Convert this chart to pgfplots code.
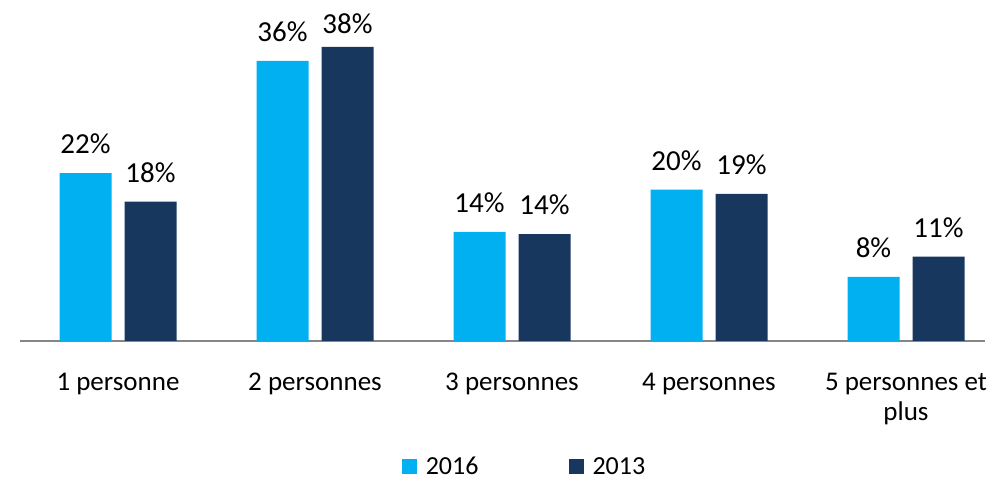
\documentclass[border=0pt]{standalone}
\usepackage{pgfplots}
\pgfplotsset{compat=1.18}
\usepackage{fontspec}
\setmainfont{Carlito}
\definecolor{lightb}{HTML}{00B0F0}
\definecolor{darkb}{HTML}{17375E}
\definecolor{axgray}{HTML}{868686}
\begin{document}
\begin{tikzpicture}
\useasboundingbox (0,0) rectangle (991pt,479pt);
\begin{axis}[
  at={(20pt,138pt)},
  scale only axis,
  width=965pt, height=341pt,
  xmin=-0.4975, xmax=4.401,
  ymin=0, ymax=44.07,
  ybar=13pt, bar width=52pt,
  hide y axis,
  axis x line*=bottom,
  x axis line style={-, draw=axgray, line width=2pt},
  xtick=data,
  xtick style={draw=none},
  xticklabels={1 personne,2 personnes,3 personnes,4 personnes,{5 personnes et\\plus}},
  xticklabel style={font=\fontsize{27}{30}\selectfont, align=center, anchor=north, inner sep=0pt, yshift=-28pt},
  /pgf/number format/assume math mode=true,
  visualization depends on={y \as \yv},
  nodes near coords={\pgfmathprintnumber[fixed,precision=0]{\pgfplotspointmeta}\%},
  every node near coord/.append style={font=\fontsize{29}{34}\selectfont, anchor=south, inner sep=0pt, yshift={ifthenelse(\yv>37,13,19)}, text=black},
  clip=false,
  legend style={at={(0.5228,-0.369)}, anchor=center, draw=none, fill=none,
    font=\fontsize{26}{30}\selectfont, legend columns=2,
    /tikz/every even column/.append style={column sep=88pt},
    /tikz/every odd column/.append style={column sep=7pt},
    legend cell align=left, inner sep=0pt},
  legend image code/.code={\fill[#1] (0pt,-7.5pt) rectangle (15pt,7.5pt);},
]
\addplot[fill=lightb, draw=none] coordinates {(0,21.7) (1,36.2) (2,14.1) (3,19.55) (4,8.3)};
\addplot[fill=darkb, draw=none] coordinates {(0,18.0) (1,38.0) (2,13.8) (3,19.0) (4,10.9)};
\legend{2016,2013}
\end{axis}
\end{tikzpicture}
\end{document}
